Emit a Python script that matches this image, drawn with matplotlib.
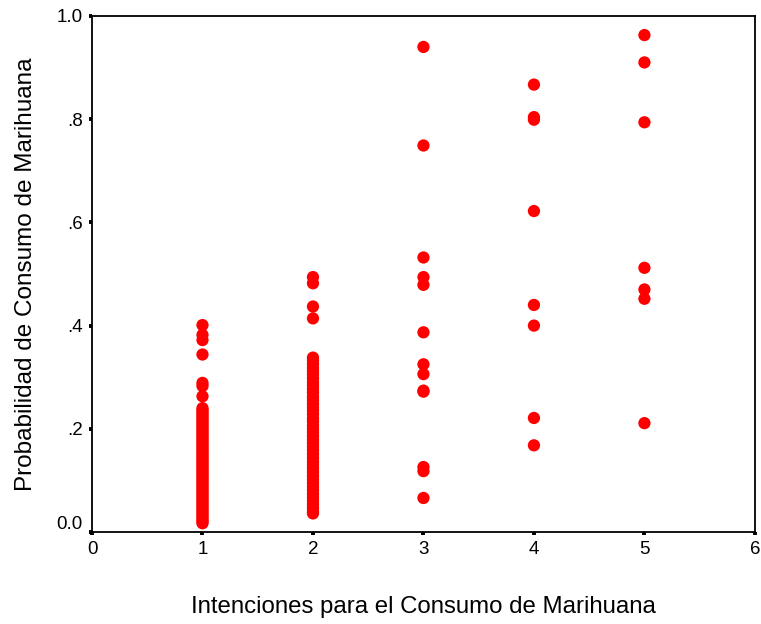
import matplotlib
matplotlib.use('Agg')
import matplotlib.pyplot as plt
import matplotlib.transforms as mtransforms

plt.rcParams['font.family'] = ['Liberation Sans', 'DejaVu Sans']

# Intenciones = 1
y_int1 = [0.401, 0.382, 0.372, 0.344, 0.289, 0.283, 0.263,
          0.240, 0.236, 0.232, 0.228, 0.224, 0.220, 0.216, 0.212, 0.208,
          0.204, 0.200, 0.196, 0.192, 0.188, 0.184, 0.180, 0.176, 0.172,
          0.168, 0.164, 0.160, 0.156, 0.152, 0.148, 0.144, 0.140, 0.136,
          0.132, 0.128, 0.124, 0.120, 0.116, 0.112, 0.108, 0.104, 0.100,
          0.096, 0.092, 0.088, 0.084, 0.080, 0.076, 0.072, 0.068, 0.064,
          0.060, 0.056, 0.052, 0.048, 0.044, 0.040, 0.036, 0.032, 0.028,
          0.024, 0.020, 0.017]
# Intenciones = 2
y_int2 = [0.494, 0.482, 0.437, 0.414,
          0.338, 0.333, 0.326, 0.318, 0.312, 0.305, 0.298, 0.290, 0.284,
          0.277, 0.270, 0.262, 0.256, 0.249, 0.242, 0.235, 0.228, 0.220,
          0.214, 0.207, 0.200, 0.193, 0.186, 0.179, 0.172, 0.165, 0.158,
          0.151, 0.144, 0.137, 0.130, 0.123, 0.116, 0.109, 0.102, 0.095,
          0.088, 0.081, 0.074, 0.067, 0.060, 0.053, 0.046, 0.040, 0.036]
# Intenciones = 3
y_int3 = [0.940, 0.749, 0.532, 0.494, 0.479, 0.387, 0.325, 0.306,
          0.274, 0.272, 0.126, 0.118, 0.066]
# Intenciones = 4
y_int4 = [0.867, 0.804, 0.799, 0.622, 0.440, 0.400, 0.221, 0.168]
# Intenciones = 5
y_int5 = [0.963, 0.910, 0.794, 0.512, 0.470, 0.452, 0.211]

groups = [1, 2, 3, 4, 5]
values = [y_int1, y_int2, y_int3, y_int4, y_int5]

x_ticks = [0, 1, 2, 3, 4, 5, 6]
y_ticks = [0.0, 0.2, 0.4, 0.6, 0.8, 1.0]
y_ticklabels = ['0.0', '.2', '.4', '.6', '.8', '1.0']

fig = plt.figure(figsize=(7.61, 6.24), dpi=100)
ax = fig.add_axes([0.1209, 0.1474, 0.8711, 0.827])

for g, vals in zip(groups, values):
    ax.scatter([g] * len(vals), vals, s=78, color='#ff0000',
               edgecolors='none', zorder=3)

ax.set_xlim(0, 6)
ax.set_ylim(0, 1)
ax.set_xticks(x_ticks)
ax.set_yticks(y_ticks)
ax.set_yticklabels(y_ticklabels)

for sp in ax.spines.values():
    sp.set_linewidth(1.3)
    sp.set_color('black')

ax.tick_params(axis='both', direction='out', length=2.5, width=2.8,
               labelsize=13.5, pad=4, colors='black')

# la etiqueta 0.0 va un poco por encima del eje
lbl0 = ax.get_yticklabels()[0]
lbl0.set_transform(lbl0.get_transform() +
                   mtransforms.ScaledTranslation(0, 10 / 100, fig.dpi_scale_trans))

ax.set_xlabel('Intenciones para el Consumo de Marihuana', fontsize=17.3,
              labelpad=27)
ax.set_ylabel('Probabilidad de Consumo de Marihuana', fontsize=17.5,
              labelpad=14)

fig.savefig('out.png', dpi=100, facecolor='white')
